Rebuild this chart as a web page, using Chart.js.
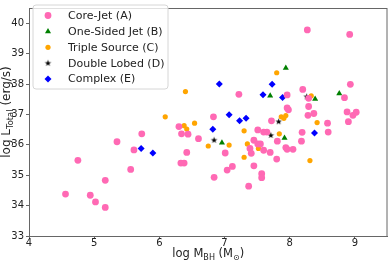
<!DOCTYPE html>
<html>
<head>
<meta charset="utf-8">
<script src="https://cdn.jsdelivr.net/npm/chart.js@4.4.1/dist/chart.umd.min.js"></script>
<style>
  html, body { margin: 0; padding: 0; background: #fff; }
  #wrap { width: 391px; height: 261px; }
</style>
</head>
<body>
<div id="wrap"><canvas id="c" width="391" height="261"></canvas></div>
<script>
// ─── Data: log M_BH (x), log L_Total (y) ───
const coreJetX = [4.56, 4.75, 4.94, 5.02, 5.17, 5.17, 5.35, 5.56, 5.61, 5.73,
  6.30, 6.34, 6.44, 6.42, 6.33, 6.38, 6.60, 6.83, 6.84, 7.01,
  7.04, 7.12, 7.22, 7.37, 7.39, 7.41, 7.45, 7.45, 7.51, 7.51,
  7.55, 7.60, 7.57, 7.57, 7.60, 7.65, 7.70, 7.72, 7.81, 7.80,
  7.94, 7.96, 8.05, 8.19, 8.18, 8.59, 8.27, 8.92, 8.93, 8.20,
  7.96, 8.84, 8.29, 7.96, 7.98, 8.29, 8.28, 8.37, 8.88, 8.97,
  9.02, 8.90, 8.58];
const coreJetY = [34.38, 35.49, 34.34, 34.12, 33.94, 34.83, 36.10, 35.19, 35.83, 36.36,
  36.60, 36.36, 36.35, 35.75, 35.40, 35.40, 36.20, 36.92, 34.93, 35.73,
  35.17, 35.29, 37.66, 34.64, 35.88, 35.72, 36.15, 35.31, 36.49, 36.03,
  36.03, 35.82, 35.05, 34.92, 36.42, 36.42, 35.75, 36.79, 36.12, 35.53,
  35.91, 35.85, 35.85, 36.41, 36.12, 36.42, 39.78, 39.63, 37.99, 37.82,
  37.64, 37.55, 37.53, 37.21, 37.15, 37.26, 36.97, 37.03, 37.08, 36.97,
  37.07, 36.76, 36.71];

const oneSidedX = [6.96, 7.70, 7.92, 7.94, 8.39, 8.76];
const oneSidedY = [36.07, 37.61, 36.22, 38.53, 37.51, 37.69];

const tripleX = [6.09, 6.40, 6.38, 6.42, 6.54, 6.75, 7.07, 7.30, 7.35, 7.30,
  7.52, 7.84, 8.31, 7.80, 8.33, 7.87, 7.91, 7.94, 8.42];
const tripleY = [36.92, 37.75, 36.63, 36.52, 36.71, 35.96, 35.99, 36.46, 36.03, 35.59,
  35.88, 36.36, 35.48, 38.37, 37.61, 36.92, 36.87, 36.96, 36.73];

const doubleX = [6.84, 7.71, 7.83, 8.26];
const doubleY = [36.15, 36.31, 36.76, 37.58];

const complexX = [5.72, 5.90, 6.82, 6.92, 7.07, 7.23, 7.33, 7.59, 7.73, 7.89, 8.38];
const complexY = [35.88, 35.73, 36.51, 38.00, 36.99, 36.79, 36.87, 37.65, 37.99, 37.56, 36.39];

const xTicks = [4, 5, 6, 7, 8, 9];
const yTicks = [33, 34, 35, 36, 37, 38, 39, 40];

const FONT = '"DejaVu Sans", sans-serif';

// matplotlib '*' is a filled star, Chart.js draws an outline one -> use a small image
function starImage(r, color) {
    const c = document.createElement('canvas');
    const s = Math.ceil(r * 2 + 2);
    c.width = s; c.height = s;
    const g = c.getContext('2d');
    g.fillStyle = color;
    g.beginPath();
    for (let i = 0; i < 10; i++) {
        const rad = i % 2 === 0 ? r : r * 0.4;
        const a = -Math.PI / 2 + i * Math.PI / 5;
        g.lineTo(s / 2 + rad * Math.cos(a), s / 2 + rad * Math.sin(a));
    }
    g.closePath();
    g.fill();
    return c;
}
const STAR = starImage(3.4, '#000000');

function pts(xs, ys) {
    return xs.map((x, i) => ({ x, y: ys[i] }));
}

const series = [
    { label: 'Core-Jet (A)', data: pts(coreJetX, coreJetY), color: '#ff69b4', style: 'circle', r: 3.4 },
    { label: 'One-Sided Jet (B)', data: pts(oneSidedX, oneSidedY), color: '#008000', style: 'triangle', r: 3.5 },
    { label: 'Triple Source (C)', data: pts(tripleX, tripleY), color: '#ffa500', style: 'circle', r: 2.6 },
    { label: 'Double Lobed (D)', data: pts(doubleX, doubleY), color: '#000000', style: STAR, r: 3.4 },
    { label: 'Complex (E)', data: pts(complexX, complexY), color: '#0000ff', style: 'rectRot', r: 3.5 }
];

// text with subscripts, parts: [text, isSub]
function drawParts(ctx, parts, size) {
    const sub = size * 0.7;
    let w = 0;
    parts.forEach(p => {
        ctx.font = (p[1] ? sub : size) + 'px ' + FONT;
        p.w = ctx.measureText(p[0]).width;
        w += p.w;
    });
    let x = -w / 2;
    parts.forEach(p => {
        ctx.font = (p[1] ? sub : size) + 'px ' + FONT;
        ctx.fillText(p[0], x, p[1] ? size * 0.25 : 0);
        x += p.w;
    });
}

const extras = {
    id: 'extras',
    afterDraw(chart) {
        const ctx = chart.ctx;
        const a = chart.chartArea;
        ctx.save();
        // top / right spines
        ctx.strokeStyle = '#666';
        ctx.lineWidth = 1;
        ctx.strokeRect(a.left + 0.5, a.top + 0.5, a.right - a.left - 1, a.bottom - a.top);

        // axis titles
        ctx.fillStyle = '#222';
        ctx.textBaseline = 'alphabetic';
        ctx.textAlign = 'left';
        ctx.save();
        ctx.translate((a.left + a.right) / 2, 257);
        drawParts(ctx, [['log M', false], ['BH', true], [' (M', false], ['\u2299', true], [')', false]], 11.5);
        ctx.restore();
        ctx.save();
        ctx.translate(10, 112);
        ctx.rotate(-Math.PI / 2);
        drawParts(ctx, [['log L', false], ['Total', true], [' (erg/s)', false]], 12);
        ctx.restore();

        // legend box
        const bx = 33, by = 5, bw = 135, bh = 84, rr = 3;
        ctx.beginPath();
        ctx.moveTo(bx + rr, by);
        ctx.arcTo(bx + bw, by, bx + bw, by + bh, rr);
        ctx.arcTo(bx + bw, by + bh, bx, by + bh, rr);
        ctx.arcTo(bx, by + bh, bx, by, rr);
        ctx.arcTo(bx, by, bx + bw, by, rr);
        ctx.closePath();
        ctx.fillStyle = 'rgba(255,255,255,0.8)';
        ctx.fill();
        ctx.strokeStyle = '#d6d6d6';
        ctx.stroke();

        ctx.font = '11px ' + FONT;
        ctx.textBaseline = 'middle';
        series.forEach((s, i) => {
            const y = 15.5 + i * 15.9;
            ctx.fillStyle = s.color;
            ctx.strokeStyle = s.color;
            Chart.helpers.drawPoint(ctx, { pointStyle: s.style, radius: s.r, rotation: 0, borderWidth: 0 }, 48, y);
            ctx.fillStyle = '#222';
            ctx.fillText(s.label, 68, y + 0.5);
        });
        ctx.restore();
    }
};

const tickFont = { family: FONT, size: 10 };

new Chart(document.getElementById('c'), {
    type: 'scatter',
    data: {
        datasets: series.map(s => ({
            label: s.label,
            data: s.data,
            pointStyle: s.style,
            pointRadius: s.r,
            pointHoverRadius: s.r,
            backgroundColor: s.color,
            borderColor: s.color,
            borderWidth: 0
        }))
    },
    options: {
        responsive: false,
        animation: false,
        devicePixelRatio: 1,
        layout: { padding: { top: 1, right: 1, left: 0, bottom: 0 } },
        plugins: { legend: { display: false }, tooltip: { enabled: false } },
        scales: {
            x: {
                type: 'linear',
                min: 4, max: 9.5,
                afterBuildTicks: sc => { sc.ticks = xTicks.map(v => ({ value: v })); },
                afterFit: sc => { sc.height = 25; },
                grid: { drawOnChartArea: false, drawTicks: true, tickLength: 3, color: '#666' },
                border: { display: true, color: '#666' },
                ticks: { font: tickFont, color: '#222', padding: -2, maxRotation: 0 }
            },
            y: {
                type: 'linear',
                min: 33, max: 40.5,
                afterBuildTicks: sc => { sc.ticks = yTicks.map(v => ({ value: v })); },
                afterFit: sc => { sc.width = 29; },
                grid: { drawOnChartArea: false, drawTicks: true, tickLength: 3, color: '#666' },
                border: { display: true, color: '#666' },
                ticks: { font: tickFont, color: '#222', padding: 2 }
            }
        }
    },
    plugins: [extras]
});
</script>
</body>
</html>
